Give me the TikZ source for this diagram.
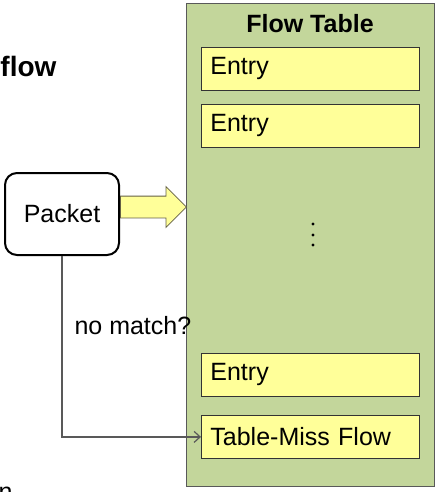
\documentclass[tikz,border=0pt]{standalone}
\usepackage{fontspec}
\setmainfont{Liberation Sans}
\usetikzlibrary{shapes.arrows,arrows.meta}

\definecolor{tablegreen}{HTML}{C3D69B}
\definecolor{entryyellow}{HTML}{FFFF99}
\definecolor{linegray}{HTML}{595959}

\tikzset{
  entrybox/.style={draw=black!80,fill=entryyellow,line width=0.8pt,anchor=north west,
    minimum width=218pt,minimum height=43pt,text width=200pt,align=left,inner xsep=9pt},
  bigtext/.style={font=\fontsize{25}{29}\selectfont}
}

\begin{document}
\begin{tikzpicture}[x=1pt,y=-1pt,bigtext]
	\useasboundingbox (0,0) rectangle (438,492);
	\node[anchor=east,font=\fontsize{28}{31}\selectfont\bfseries] (T0) at (60,66) {flow};
	\node[anchor=base west] (T1) at (-5,500) {n};
	\draw[draw=linegray,fill=tablegreen,line width=0.8pt] (186,3) rectangle (434,486);
	\node[font=\fontsize{25}{29}\selectfont\bfseries] (FT) at (310,24) {Flow Table};
	\node[entrybox] (E1) at (201,47) {Entry};
	\node[entrybox] (E2) at (201,104) {Entry};
	\node[entrybox] (E3) at (201,353) {Entry};
	\node[entrybox] (TM) at (201,415) {Table-Miss Flow};
	\foreach \y in {224,235,245}
		\fill (313,\y) circle (1.6pt);
	\node[draw,line width=2pt,rounded corners=12pt,minimum width=114pt,minimum height=82pt] (PK) at (62,214) {Packet};
	\node[single arrow,draw=black!70!yellow,fill=entryyellow,line width=0.8pt,inner sep=10.5pt,
	      minimum height=66pt,single arrow head extend=9.5pt,
	      single arrow tip angle=90,anchor=tail] (FA) at (120,207) {};
	\draw[linegray,line width=1.2pt,-{Straight Barb[length=6pt,width=11pt]}] (PK.south) |- (TM.west);
	\node[anchor=west] (NM) at (71,326) {no match?};
\end{tikzpicture}
\end{document}
